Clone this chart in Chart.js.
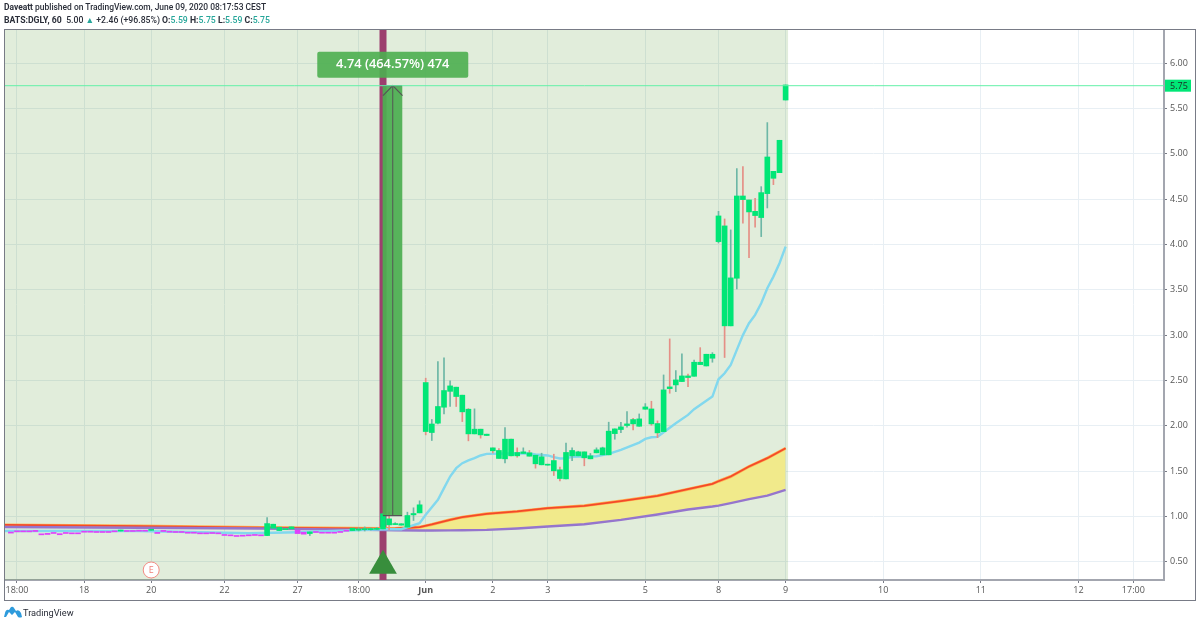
<!DOCTYPE html>
<html><head><meta charset="utf-8">
<script src="https://cdn.jsdelivr.net/npm/chart.js@4"></script>
<style>
html,body{margin:0;padding:0;background:#fff;width:1200px;height:625px;overflow:hidden}
canvas{position:absolute;left:0;top:0}
.t{position:absolute;left:4px;font:500 8.45px Roboto,sans-serif;color:#2a2e39;white-space:nowrap;line-height:12px}
.t b{font-weight:700}.t i{font-style:normal;color:#26a69a}
#logo{position:absolute;left:4px;top:606px}
#brand{position:absolute;left:23px;top:606px;font:9.2px Roboto,sans-serif;color:#2a2e39;line-height:14px}
</style></head><body>
<canvas id="c" width="1200" height="625"></canvas>
<div class="t" style="top:1px"><b>Daveatt</b> published on TradingView.com, June 09, 2020 08:17:53 CEST</div>
<div class="t" style="top:14px;font-size:8.7px"><b>BATS:DGLY, 60</b>&nbsp; 5.00 <i>▲</i> +2.46 (+96.85%) <b>O:</b><i>5.59</i> <b>H:</b><i>5.75</i> <b>L:</b><i>5.59</i> <b>C:</b><i>5.75</i></div>
<svg id="logo" width="18" height="13" viewBox="0 0 18 13"><path d="M0 11 L1 7 Q2 3 5 4 L7 1 Q9 0 10 2 L12 5 Q15 3 17 7 L18 11 Q16 12 14 11 L11 6 L8 9 L5 6 L2 11Z" fill="#2e9bdc"/></svg>
<div id="brand">TradingView</div>
<script>
const firstBar = -1;
const opens = [.829,.837,.837,.837,.847,.804,.814,.819,.811,.819,.815,.815,.833,.833,.83,.83,.83,.837,.84,.841,.841,.844,.844,.848,.825,.847,.833,.83,.83,.822,.822,.815,.815,.819,.815,.797,.793,.786,.789,.793,.797,.793,.79,.871,.845,.855,.864,.849,.827,.812,.827,.822,.822,.822,.83,.844,.845,.85,.855,.855,.858,.863,.974,.911,.905,.883,1.018,1.04,
2.477,1.926,2.029,2.205,2.38,2.426,2.338,2.183,1.911,1.963,1.893,1.757,1.728,1.636,1.853,1.706,1.695,1.702,1.676,1.57,1.566,1.617,1.515,1.415,1.669,1.669,1.713,1.636,1.702,1.68,1.68,1.914,1.959,2.003,2.069,1.995,2.183,2.186,2.025,1.936,2.429,2.451,2.488,2.55,2.546,2.701,2.66,2.745,4.031,4.204,3.102,3.627,4.534,4.49,4.365,4.296,4.56,4.806,4.791,5.592];
const closes = [.817,.831,.831,.831,.835,.798,.802,.813,.799,.813,.809,.809,.827,.827,.824,.824,.824,.831,.85,.835,.835,.838,.838,.856,.813,.835,.827,.824,.824,.816,.816,.809,.809,.813,.809,.791,.787,.78,.783,.787,.791,.787,.922,.915,.882,.865,.886,.812,.805,.83,.824,.816,.816,.816,.824,.838,.871,.862,.865,.865,.868,1.03,.908,.921,.92,1.011,1.033,1.129,
1.937,2.02,2.213,2.389,2.44,2.323,2.154,1.911,1.963,1.90,1.908,1.724,1.64,1.853,1.669,1.669,1.713,1.665,1.581,1.658,1.577,1.504,1.419,1.706,1.728,1.713,1.647,1.669,1.735,1.757,1.941,1.966,1.988,2.021,2.021,2.076,2.208,2.021,1.922,2.396,2.41,2.506,2.55,2.532,2.701,2.675,2.789,2.789,4.314,3.102,3.631,4.534,4.494,4.358,4.318,4.571,4.964,4.729,5.148,5.758];
const highs = [.829,.837,.837,.837,.847,.804,.814,.819,.811,.819,.815,.815,.833,.833,.83,.83,.83,.837,.85,.841,.841,.844,.844,.856,.825,.847,.833,.83,.83,.822,.822,.815,.815,.819,.815,.797,.793,.786,.789,.793,.797,.793,.988,.915,.882,.865,.886,.849,.827,.83,.827,.822,.822,.822,.83,.844,.871,.875,.885,.875,.88,1.03,1.048,.932,.92,1.048,1.096,1.173,
2.525,2.07,2.709,2.75,2.495,2.426,2.338,2.19,2.187,1.963,1.908,1.757,1.75,1.981,1.853,1.757,1.757,1.728,1.676,1.698,1.577,1.687,1.544,1.809,1.757,1.72,1.713,1.695,1.757,1.765,2.04,1.966,2.039,2.157,2.083,2.131,2.245,2.271,2.054,2.561,2.958,2.609,2.793,2.57,2.726,2.862,2.789,2.807,4.365,4.281,4.16,4.836,4.858,4.49,4.509,4.637,5.343,4.806,5.148,5.758];
const lows = [.817,.831,.831,.831,.835,.798,.802,.813,.799,.813,.809,.809,.827,.827,.824,.824,.824,.831,.84,.835,.835,.838,.838,.848,.813,.835,.827,.824,.824,.816,.816,.809,.809,.813,.809,.791,.787,.78,.783,.787,.791,.787,.79,.871,.845,.855,.864,.812,.805,.79,.824,.816,.816,.816,.824,.838,.845,.84,.84,.85,.855,.863,.853,.911,.905,.883,.956,1.04,
1.90,1.838,2.02,2.13,2.213,2.213,2.047,1.834,1.911,1.864,1.893,1.70,1.64,1.592,1.669,1.654,1.695,1.665,1.533,1.57,1.566,1.452,1.393,1.415,1.617,1.669,1.559,1.636,1.702,1.68,1.68,1.852,1.925,1.984,1.955,1.995,2.183,2.006,1.87,1.936,2.359,2.377,2.488,2.432,2.546,2.675,2.66,2.701,4.016,2.753,3.102,3.509,4.233,3.855,4.189,4.086,4.402,4.659,4.791,5.592];
const pinkBars = [-1,0,1,2,3,4,5,6,7,8,9,10,11,12,13,14,15,16,18,19,20,21,23,24,25,26,27,28,29,30,31,32,33,34,35,36,37,38,39,40,46,47,49,50,51,52,53,54];

const emaBars = [-2,20,38,46,60,63,66,67,69,70,71,72,73,74,75,76,77,80,84,85,87,88,89,90,91,93,95,97,99,102,103,104,105,106,108,110,111,114,115,116,117,118,119,120,121,122,123,124,125,126];
const emaValues = [.84,.84,.815,.826,.86,.86,.926,1.019,1.184,1.313,1.441,1.533,1.588,1.618,1.643,1.673,1.691,1.695,1.695,1.684,1.673,1.654,1.64,1.643,1.658,1.662,1.664,1.69,1.734,1.815,1.856,1.874,1.878,1.929,2.028,2.12,2.183,2.322,2.513,2.579,2.671,2.837,3.0,3.131,3.223,3.351,3.517,3.645,3.792,3.976];

const maBars = [-2,20,40,60,62,66,68,71,73,77,82,87,93,99,105,110,114,115,117,120,123,126];
const fastMa = [.907,.895,.878,.867,.868,.883,.912,.964,.993,1.03,1.056,1.092,1.118,1.17,1.228,1.301,1.36,1.389,1.441,1.551,1.643,1.753];
const slowMa = [.885,.876,.867,.85,.848,.846,.846,.847,.848,.853,.868,.89,.915,.963,1.022,1.077,1.11,1.12,1.147,1.191,1.231,1.294];

const tickBars = [0,11,22,34,46,56,67,78,87,103,115,126,142,158,174,183];
const tickLabels = ['18:00','18','20','22','27','18:00','Jun','2','3','5','8','9','10','11','12','17:00'];
const priceTicks = [.5,1,1.5,2,2.5,3,3.5,4,4.5,5,5.5,6];

const signalBar = 60, earningsBar = 22, zoneEnd = 126.4;
const lastPrice = 5.75, entryPrice = 1.01, rangeStart = 60, rangeMid = 61.6, rangeEnd = 63.1;
const rangeLabel = '4.74 (464.57%) 474';
const xMin = -1.967, xMax = 188.03, yMin = .3, yMax = 6.364;

const allBars = opens.map((_, i) => firstBar + i);
const isPink = b => pinkBars.includes(b);
const UP = '#00e676', PINK = '#e040fb';
const pts = (xs, ys) => xs.map((x, i) => ({x, y: ys[i]}));

const plugin = {
  id: 'overlay',
  beforeDatasetsDraw(ch) {
    const {ctx, chartArea: a, scales: {x}} = ch;
    ctx.save();
    ctx.fillStyle = 'rgba(70,140,30,.16)';
    ctx.fillRect(a.left, a.top, x.getPixelForValue(zoneEnd) - a.left, a.bottom - a.top);
    ctx.restore();
  },
  afterDatasetsDraw(ch) {
    const {ctx, scales: {x, y}, chartArea: a} = ch;
    ctx.save();
    const cx = x.getPixelForValue(rangeMid), ty = y.getPixelForValue(lastPrice);
    ctx.fillStyle = 'rgba(76,175,80,.9)';
    ctx.beginPath(); ctx.roundRect(cx - 75.5, ty - 34, 151, 26, 2); ctx.fill();
    ctx.fillStyle = '#fff'; ctx.textAlign = 'center'; ctx.textBaseline = 'middle';
    ctx.font = '600 12.8px "Open Sans",sans-serif';
    ctx.fillText(rangeLabel, cx, ty - 21);
    const ex = x.getPixelForValue(earningsBar), ey = 570;
    ctx.beginPath(); ctx.arc(ex, ey, 8, 0, Math.PI * 2);
    ctx.fillStyle = '#fff'; ctx.fill();
    ctx.strokeStyle = '#f28b82'; ctx.lineWidth = 1; ctx.stroke();
    ctx.fillStyle = '#ef7f78'; ctx.font = '9px "Open Sans",sans-serif';
    ctx.fillText('E', ex, ey);
    ctx.fillStyle = UP;
    ctx.fillRect(a.right + 1, ty - 6, 26, 12);
    ctx.fillStyle = '#1d2b24'; ctx.font = '9px "Open Sans",sans-serif'; ctx.textAlign = 'left';
    ctx.fillText(lastPrice.toFixed(2), a.right + 6, ty + .5);
    ctx.strokeStyle = '#787b86'; ctx.lineWidth = 1;
    ctx.strokeRect(4.5, 29.5, 1191, 571);
    ctx.restore();
  }
};

const lineDs = (data, color, width, order, extra) => Object.assign({
  type: 'line', data, borderColor: color, borderWidth: width, pointRadius: 0,
  tension: 0, fill: false, order, clip: true
}, extra || {});

new Chart(document.getElementById('c'), {
  type: 'bar',
  data: { datasets: [
    lineDs([{x: signalBar, y: yMin}, {x: signalBar, y: yMax}], '#9c3f6e', 7, 30),
    lineDs(pts(maBars, slowMa), '#9575cd', 2.4, 19),
    lineDs(pts(maBars, fastMa), '#ffb04f', 3, 20, {fill: {target: 1}, backgroundColor: '#f1ea8b'}),
    lineDs(pts(maBars, fastMa), '#f4492a', 1.8, 19.5),
    lineDs(pts(emaBars, emaValues), '#82d8ee', 2.4, 18),
    { type: 'bar', data: allBars.map((b, i) => ({x: b, y: [lows[i], highs[i]]})), grouped: false, barThickness: 1,
      backgroundColor: allBars.map((b, i) => isPink(b) ? 'rgba(0,0,0,0)' : closes[i] < opens[i] ? '#e58f86' : '#6db7a6'), order: 16 },
    { type: 'bar', data: allBars.map((b, i) => ({x: b, y: [Math.min(opens[i], closes[i]), Math.max(opens[i], closes[i])]})), grouped: false, barThickness: 5, minBarLength: 1,
      backgroundColor: allBars.map(b => isPink(b) ? PINK : UP), order: 15 },
    { type: 'bar', data: [{x: (rangeStart + rangeEnd) / 2, y: [entryPrice, lastPrice]}], grouped: false, barThickness: 19,
      backgroundColor: 'rgba(76,175,80,.92)', order: 10 },
    lineDs([{x: rangeStart, y: lastPrice}, {x: rangeEnd, y: lastPrice}], '#555', 1.2, 9),
    lineDs([{x: rangeStart, y: entryPrice}, {x: rangeEnd, y: entryPrice}], '#555', 1.2, 9),
    lineDs([{x: rangeMid, y: entryPrice}, {x: rangeMid, y: lastPrice}], '#555', 1, 9),
    lineDs([{x: rangeMid - 1.6, y: lastPrice - .11}, {x: rangeMid, y: lastPrice}, {x: rangeMid + 1.6, y: lastPrice - .11}], '#555', 1.2, 9),
    lineDs([{x: xMin, y: lastPrice}, {x: xMax, y: lastPrice}], '#63f0a8', 1, 8),
    { type: 'scatter', data: [{x: signalBar, y: .456}], pointStyle: 'triangle', pointRadius: 16, pointHoverRadius: 16,
      backgroundColor: '#388e3c', borderWidth: 0, order: 5 }
  ]},
  plugins: [plugin],
  options: {
    responsive: false, animation: false, devicePixelRatio: 1,
    layout: { autoPadding: false, padding: { left: 5, top: 30, right: 4, bottom: 25 } },
    plugins: { legend: {display: false}, tooltip: {enabled: false} },
    events: [],
    scales: {
      x: {
        type: 'linear', min: xMin, max: xMax, offset: false,
        afterBuildTicks(s) { s.ticks = tickBars.map(value => ({value})); },
        afterFit(s) { s.height = 20; },
        grid: { color: '#e8eff4', offset: false, tickColor: '#787b86', tickLength: 3 },
        border: { color: '#a3a6af', width: 2 },
        ticks: { autoSkip: false, maxRotation: 0, color: '#555', padding: 2,
          font: c => c.tick && tickLabels[tickBars.indexOf(c.tick.value)] === 'Jun'
            ? {family: '"Open Sans",sans-serif', size: 9, weight: 'bold'}
            : {family: '"Open Sans",sans-serif', size: 9},
          callback: v => tickLabels[tickBars.indexOf(v)] }
      },
      y: {
        type: 'linear', position: 'right', min: yMin, max: yMax,
        afterBuildTicks(s) { s.ticks = priceTicks.map(value => ({value})); },
        afterFit(s) { s.width = 32; },
        grid: { color: '#e8eff4', tickColor: '#787b86', tickLength: 3 },
        border: { color: '#a3a6af', width: 2 },
        ticks: { color: '#555', padding: 3, font: {family: '"Open Sans",sans-serif', size: 9},
          callback: v => v.toFixed(2) }
      }
    }
  }
});
</script></body></html>
